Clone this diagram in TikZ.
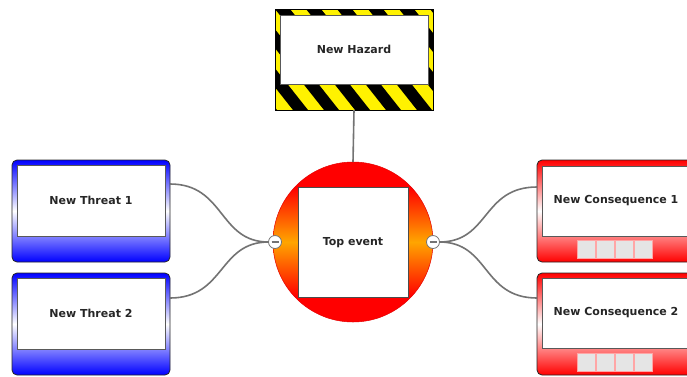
\documentclass[tikz,border=0pt]{standalone}
\usepackage{fontspec}
\setmainfont{DejaVu Sans}
\usetikzlibrary{calc}
\definecolor{orng}{RGB}{255,165,0}
\pgfdeclareverticalshading{circsh}{100bp}{color(0bp)=(red); color(33bp)=(red); color(50bp)=(orng); color(67bp)=(red); color(100bp)=(red)}
\begin{document}
\begin{tikzpicture}[x=1pt,y=-1pt,
 every node/.style={inner sep=0pt, outer sep=0pt},
 lbl/.style={font=\fontsize{11}{13}\selectfont\bfseries, text=black!85},
 inbox/.style={rectangle, draw=black!65, line width=0.8pt, fill=white, minimum width=148pt, minimum height=71pt, lbl},
 threatbox/.style={rectangle, rounded corners=5pt, draw=black!85, line width=0.8pt, minimum width=158pt, minimum height=102pt, top color=blue, bottom color=blue, middle color=white},
 consbox/.style={rectangle, rounded corners=5pt, draw=black!85, line width=0.8pt, minimum width=158pt, minimum height=102pt, top color=red, bottom color=red, middle color=white},
 sq/.style={rectangle, minimum size=18pt, fill=black!10, draw=red!35, line width=0.6pt},
 conn/.style={draw=black!55, line width=1.6pt},
 minus/.style={circle, draw=black!55, fill=white, line width=0.8pt, minimum size=13pt,
   path picture={\draw[black!55,line width=1.2pt] ([xshift=-3.5pt]path picture bounding box.center) -- ([xshift=3.5pt]path picture bounding box.center);}}
]
\clip (0,0) rectangle (687,376);
\fill[white] (0,0) rectangle (687,376);

% hazard
\node[rectangle, fill=yellow, minimum width=158pt, minimum height=101pt] (haz) at (354,59.5) {};
\begin{scope}
 \clip (haz.north west) rectangle (haz.south east);
 \foreach \i in {-7,...,7}
   \fill[black] ($(haz.north west)+(\i*31,0)$) -- ++(15,0) -- ++(80,101) -- ++(-15,0) -- cycle;
\end{scope}
\draw[black, line width=0.8pt] (haz.north west) rectangle (haz.south east);
\node[inbox, minimum height=69pt] (hazin) at (354,49.5) {New Hazard};

% top event
\node[circle, minimum size=160pt, shading=circsh, draw=red!90!black, line width=0.5pt] (top) at (353,242) {};
\node[rectangle, fill=white, draw=black!70, line width=1pt, minimum size=110pt, lbl] (topin) at (353,242.5) {Top event};
\draw[conn] (haz.south) -- (top.north);

% threats
\node[threatbox] (t1) at (91,211) {};
\node[inbox] (t1in) at (91,200.5) {New Threat 1};
\node[threatbox] (t2) at (91,324) {};
\node[inbox] (t2in) at (91,313.5) {New Threat 2};

% consequences
\node[consbox] (c1) at (616,211) {};
\node[inbox, minimum width=147pt, minimum height=70pt] (c1in) at (616,201) {New Consequence 1};
\foreach \k in {0,...,3} \node[sq] (c1s\k) at (586+\k*19,249) {};
\node[consbox] (c2) at (616,324) {};
\node[inbox, minimum width=147pt, minimum height=70pt] (c2in) at (616,313) {New Consequence 2};
\foreach \k in {0,...,3} \node[sq] (c2s\k) at (586+\k*19,362) {};

% minus buttons
\node[minus] (m1) at (275,242) {};
\node[minus] (m2) at (433,242) {};

% connectors
\draw[conn] ($(t1.north east)+(0,24)$) .. controls +(55,0) and +(-50,0) .. (m1.west);
\draw[conn] ($(t2.north east)+(0,25)$) .. controls +(55,0) and +(-50,0) .. (m1.west);
\draw[conn] (m2.east) .. controls +(50,0) and +(-55,0) .. ($(c1.north west)+(0,27)$);
\draw[conn] (m2.east) .. controls +(50,0) and +(-55,0) .. ($(c2.north west)+(0,25)$);
\end{tikzpicture}
\end{document}
